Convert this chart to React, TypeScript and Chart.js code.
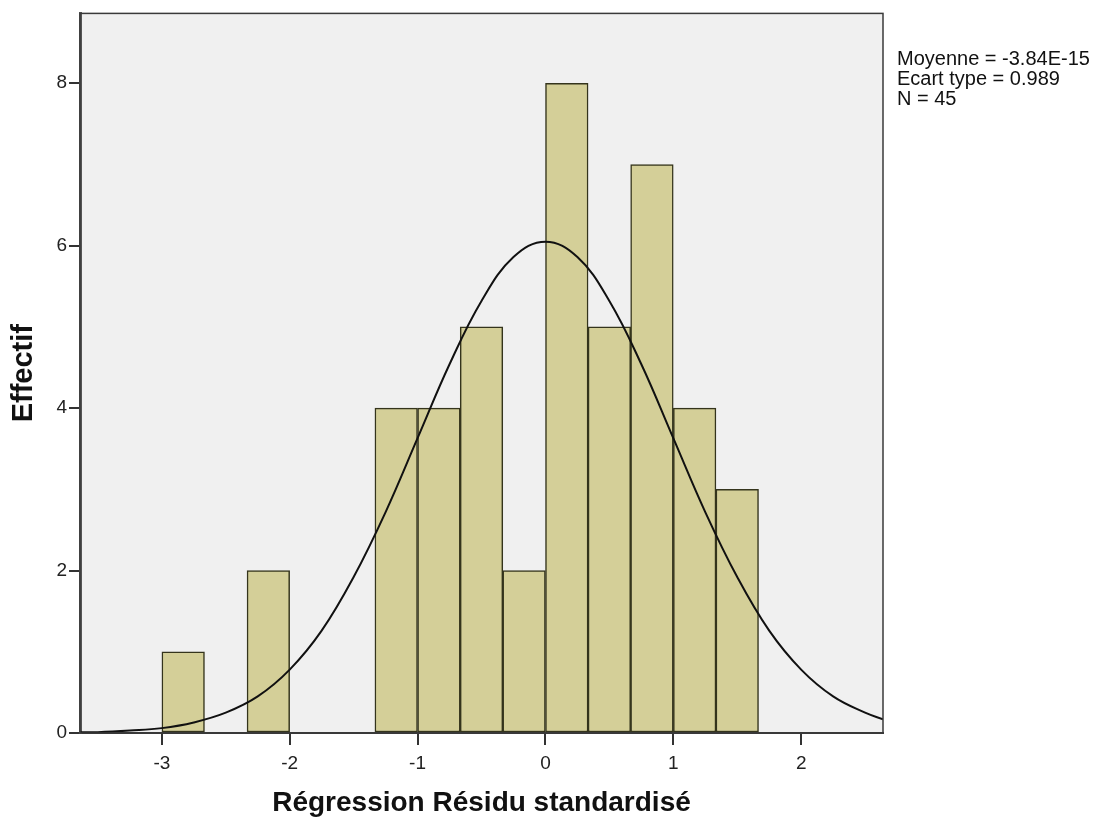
import React, { useEffect, useRef } from "react";
import { Chart, registerables } from "chart.js";

Chart.register(...registerables);

// Histogram bins (centers of 1/3-wide bins) and counts
const binCenters = [-2.833, -2.167, -1.167, -0.833, -0.5, -0.167, 0.167, 0.5, 0.833, 1.167, 1.5];
const binCounts = [1, 2, 4, 4, 5, 2, 8, 5, 7, 4, 3];

// Normal curve, values
const curveX = [-3.64, -3.5, -3.25, -3.0, -2.75, -2.5, -2.25, -2.0, -1.75, -1.5, -1.25, -1.0, -0.75, -0.5, -0.25, 0,
  0.25, 0.5, 0.75, 1.0, 1.25, 1.5, 1.75, 2.0, 2.25, 2.5, 2.64];
const curveY = [0.01, 0.01, 0.03, 0.06, 0.13, 0.25, 0.45, 0.78, 1.26, 1.92, 2.72, 3.63, 4.54, 5.32, 5.86, 6.05,
  5.86, 5.32, 4.54, 3.63, 2.72, 1.92, 1.26, 0.78, 0.45, 0.25, 0.17];

const xTickValues = [-3, -2, -1, 0, 1, 2];
const xTickLabels = ["-3", "-2", "-1", "0", "1", "2"];
const yTickValues = [0, 2, 4, 6, 8];
const yTickLabels = ["0", "2", "4", "6", "8"];

const statsLines = ["Moyenne = -3.84E-15", "Ecart type = 0.989", "N = 45"];

const xTitle = "Régression Résidu standardisé";
const yTitle = "Effectif";

const FONT = "'Liberation Sans', Arial, Helvetica, sans-serif";

export default function App() {
  const ref = useRef<HTMLCanvasElement | null>(null);

  useEffect(() => {
    if (!ref.current) return;
    const bgPlugin = {
      id: "plotBg",
      beforeDraw(chart: any) {
        const { ctx, chartArea } = chart;
        ctx.save();
        ctx.fillStyle = "#ffffff";
        ctx.fillRect(0, 0, chart.width, chart.height);
        ctx.fillStyle = "#f0f0f0";
        ctx.fillRect(chartArea.left, chartArea.top, chartArea.right - chartArea.left, chartArea.bottom - chartArea.top);
        ctx.restore();
      },
      afterDraw(chart: any) {
        const { ctx, chartArea } = chart;
        ctx.save();
        ctx.strokeStyle = "#3a3a3a";
        ctx.lineWidth = 1.5;
        ctx.strokeRect(chartArea.left, chartArea.top, chartArea.right - chartArea.left, chartArea.bottom - chartArea.top);
        ctx.fillStyle = "#111";
        ctx.font = `20px ${FONT}`;
        ctx.textBaseline = "alphabetic";
        ctx.textAlign = "left";
        statsLines.forEach((t, i) => {
          ctx.fillText(t, chartArea.right + 14, 65 + i * 20);
        });
        ctx.restore();
      },
    };

    const chart = new Chart(ref.current, {
      type: "bar",
      data: {
        datasets: [
          {
            type: "line",
            label: "Normale",
            data: curveX.map((x, i) => ({ x, y: curveY[i] })),
            borderColor: "#111111",
            borderWidth: 2,
            pointRadius: 0,
            tension: 0.4,
            fill: false,
            order: 0,
          } as any,
          {
            type: "bar",
            label: "Effectif",
            data: binCenters.map((x, i) => ({ x, y: binCounts[i] })),
            backgroundColor: "#d4cf98",
            borderColor: "#34341c",
            borderWidth: 1.5,
            borderSkipped: false,
            barPercentage: 1,
            categoryPercentage: 1,
            order: 1,
          } as any,
        ],
      },
      options: {
        responsive: false,
        animation: false,
        layout: { padding: { top: 10, right: 215, left: 0, bottom: 0 } },
        plugins: { legend: { display: false }, tooltip: { enabled: false }, title: { display: false } },
        scales: {
          x: {
            type: "linear",
            min: -3.64,
            max: 2.64,
            offset: false,
            afterFit: (s: any) => { s.height = 88; },
            afterBuildTicks: (s: any) => { s.ticks = xTickValues.map((v) => ({ value: v })); },
            ticks: {
              includeBounds: false,
              autoSkip: false,
              maxRotation: 0,
              padding: 7,
              color: "#222",
              font: { family: FONT, size: 19 },
              callback: (v: any) => {
                const i = xTickValues.indexOf(Number(v));
                return i >= 0 ? xTickLabels[i] : "";
              },
            },
            grid: { display: true, offset: false, drawOnChartArea: false, drawTicks: true, tickLength: 12, color: "#333", lineWidth: 2 },
            border: { display: true, color: "#3a3a3a", width: 2 },
            title: {
              display: true,
              text: xTitle,
              color: "#111",
              font: { family: FONT, size: 28, weight: "bold" },
              padding: { top: 0, bottom: 1 },
            },
          },
          y: {
            type: "linear",
            min: 0,
            max: 8.86,
            afterFit: (s: any) => { s.width = 80; },
            afterBuildTicks: (s: any) => { s.ticks = yTickValues.map((v) => ({ value: v })); },
            ticks: {
              includeBounds: false,
              padding: 2,
              color: "#222",
              font: { family: FONT, size: 19 },
              callback: (v: any) => {
                const i = yTickValues.indexOf(Number(v));
                return i >= 0 ? yTickLabels[i] : "";
              },
            },
            grid: { display: true, offset: false, drawOnChartArea: false, drawTicks: true, tickLength: 11, color: "#333", lineWidth: 2 },
            border: { display: true, color: "#555", width: 3 },
            title: {
              display: true,
              text: yTitle,
              color: "#111",
              font: { family: FONT, size: 29, weight: "bold" },
              padding: { top: 7, bottom: 0 },
            },
          },
        },
      },
      plugins: [bgPlugin],
    });
    return () => chart.destroy();
  }, []);

  return (
    <div style={{ position: "fixed", left: 0, top: 0, width: 1098, height: 821, background: "#fff" }}>
      <canvas ref={ref} width={1098} height={821} style={{ width: 1098, height: 821, display: "block" }} />
    </div>
  );
}
